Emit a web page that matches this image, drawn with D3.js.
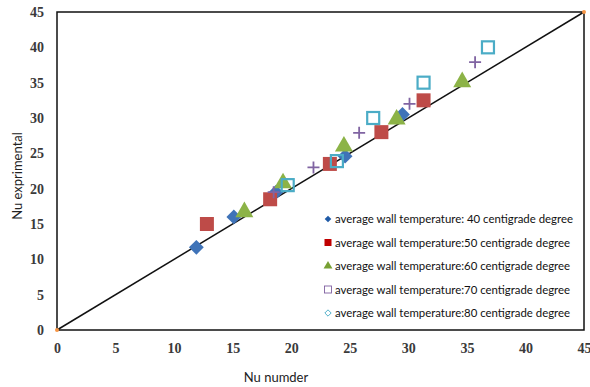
<!DOCTYPE html>
<html><head><meta charset="utf-8">
<script src="https://cdn.jsdelivr.net/npm/d3@7"></script>
<style>body{margin:0;background:#fff}</style>
</head><body>
<svg id="c" width="590" height="387"></svg>
<script>
const ticks = [0,5,10,15,20,25,30,35,40,45];
const s40 = [[11.9,11.7],[15.1,16.0],[18.7,19.5],[24.6,24.6],[29.5,30.5]];
const s50 = [[12.8,15.0],[18.2,18.5],[23.3,23.5],[27.7,28.0],[31.3,32.5]];
const s60 = [[16.0,16.7],[19.3,20.8],[24.5,26.0],[29.0,29.8],[34.6,35.1]];
const s70 = [[18.5,19.5],[21.9,23.0],[25.8,27.9],[30.1,32.0],[35.7,37.9]];
const s80 = [[19.7,20.5],[23.9,23.9],[27.0,30.0],[31.3,35.0],[36.8,40.0]];
const refLine = [[0,0],[45,45]];
const legendLabels = [
 "average wall temperature: 40 centigrade degree",
 "average wall temperature:50 centigrade degree",
 "average wall temperature:60 centigrade degree",
 "average wall temperature:70 centigrade degree",
 "average wall temperature:80 centigrade degree"];
const xTitle = "Nu numder", yTitle = "Nu exprimental";

const svg = d3.select("#c");
const L=57,R=584,T=12,B=330;
const x = d3.scaleLinear().domain([0,45]).range([L,R]);
const y = d3.scaleLinear().domain([0,45]).range([B,T]);

// axes
const tickFont = "'Liberation Serif', serif";
const xa = svg.append("g").attr("transform",`translate(0,${B})`)
  .call(d3.axisBottom(x).tickValues(ticks).tickSize(0).tickPadding(13));
const ya = svg.append("g").attr("transform",`translate(${L},0)`)
  .call(d3.axisLeft(y).tickValues(ticks).tickSize(0).tickPadding(13));
[xa,ya].forEach(g=>{g.select(".domain").remove();
  g.selectAll("text").attr("font-family",tickFont).attr("font-size",14).attr("font-weight","bold").attr("fill","#3a3a3a");});

// frame
svg.append("rect").attr("x",L).attr("y",T).attr("width",R-L).attr("height",B-T)
  .attr("fill","none").attr("stroke","#111").attr("stroke-width",1.5);

// reference line
svg.append("path").datum(refLine).attr("d",d3.line().x(d=>x(d[0])).y(d=>y(d[1])))
  .attr("stroke","#111").attr("stroke-width",1.5).attr("fill","none");
svg.selectAll(".ref").data(refLine).join("circle").attr("cx",d=>x(d[0])).attr("cy",d=>y(d[1]))
  .attr("r",2).attr("fill","#f79646");

const sym = (type,size)=>d3.symbol().type(type).size(size)();
// 40 diamonds
svg.selectAll(".d40").data(s40).join("path")
  .attr("transform",d=>`translate(${x(d[0])},${y(d[1])}) rotate(45)`)
  .attr("d",sym(d3.symbolSquare,110)).attr("fill","#3f73b8");
// 50 red squares
svg.selectAll(".d50").data(s50).join("path")
  .attr("transform",d=>`translate(${x(d[0])},${y(d[1])})`)
  .attr("d",sym(d3.symbolSquare,196)).attr("fill","#be4b48");
// 60 triangles
svg.selectAll(".d60").data(s60).join("path")
  .attr("transform",d=>`translate(${x(d[0])},${y(d[1])})`)
  .attr("d",sym(d3.symbolTriangle,140)).attr("fill","#8cb347");
// 70 plus
svg.selectAll(".d70").data(s70).join("path")
  .attr("transform",d=>`translate(${x(d[0])},${y(d[1])})`)
  .attr("d","M-6,0H6M0,-6V6").attr("stroke","#8064a2").attr("stroke-width",1.8).attr("fill","none");
// 80 hollow squares
svg.selectAll(".d80").data(s80).join("rect")
  .attr("x",d=>x(d[0])-6).attr("y",d=>y(d[1])-6).attr("width",12).attr("height",12)
  .attr("fill","none").attr("stroke","#4bacc6").attr("stroke-width",2.2);

// legend
const lg = svg.append("g");
const ly0=219, ldy=23.5, lx=328;
legendLabels.forEach((t,i)=>{
  const cy = ly0+i*ldy;
  const g = lg.append("g").attr("transform",`translate(${lx},${cy})`);
  if(i===0) g.append("path").attr("d",sym(d3.symbolSquare,22)).attr("transform","rotate(45)").attr("fill","#1f5aa6");
  if(i===1) g.append("rect").attr("x",-3.5).attr("y",-3.5).attr("width",7).attr("height",7).attr("fill","#c00000");
  if(i===2) g.append("path").attr("d",sym(d3.symbolTriangle,34)).attr("fill","#77a033");
  if(i===3) g.append("rect").attr("x",-3.5).attr("y",-3.5).attr("width",7).attr("height",7).attr("fill","none").attr("stroke","#7f5fa0").attr("stroke-width",0.9);
  if(i===4) g.append("path").attr("d",sym(d3.symbolSquare,20)).attr("transform","rotate(45)").attr("fill","none").attr("stroke","#4bacc6").attr("stroke-width",0.9);
  g.append("text").attr("x",7).attr("y",4).text(t)
   .attr("font-family","Lato, 'Open Sans', sans-serif").attr("font-size",11.4).attr("fill","#111");
});

// titles
svg.append("text").attr("x",276).attr("y",382).attr("text-anchor","middle").text(xTitle)
  .attr("font-family","Lato, 'Open Sans', sans-serif").attr("font-size",13).attr("fill","#222");
svg.append("text").attr("transform","translate(22,176) rotate(-90)").attr("text-anchor","middle").text(yTitle)
  .attr("font-family","Lato, 'Open Sans', sans-serif").attr("font-size",13).attr("fill","#222");
</script>
</body></html>
